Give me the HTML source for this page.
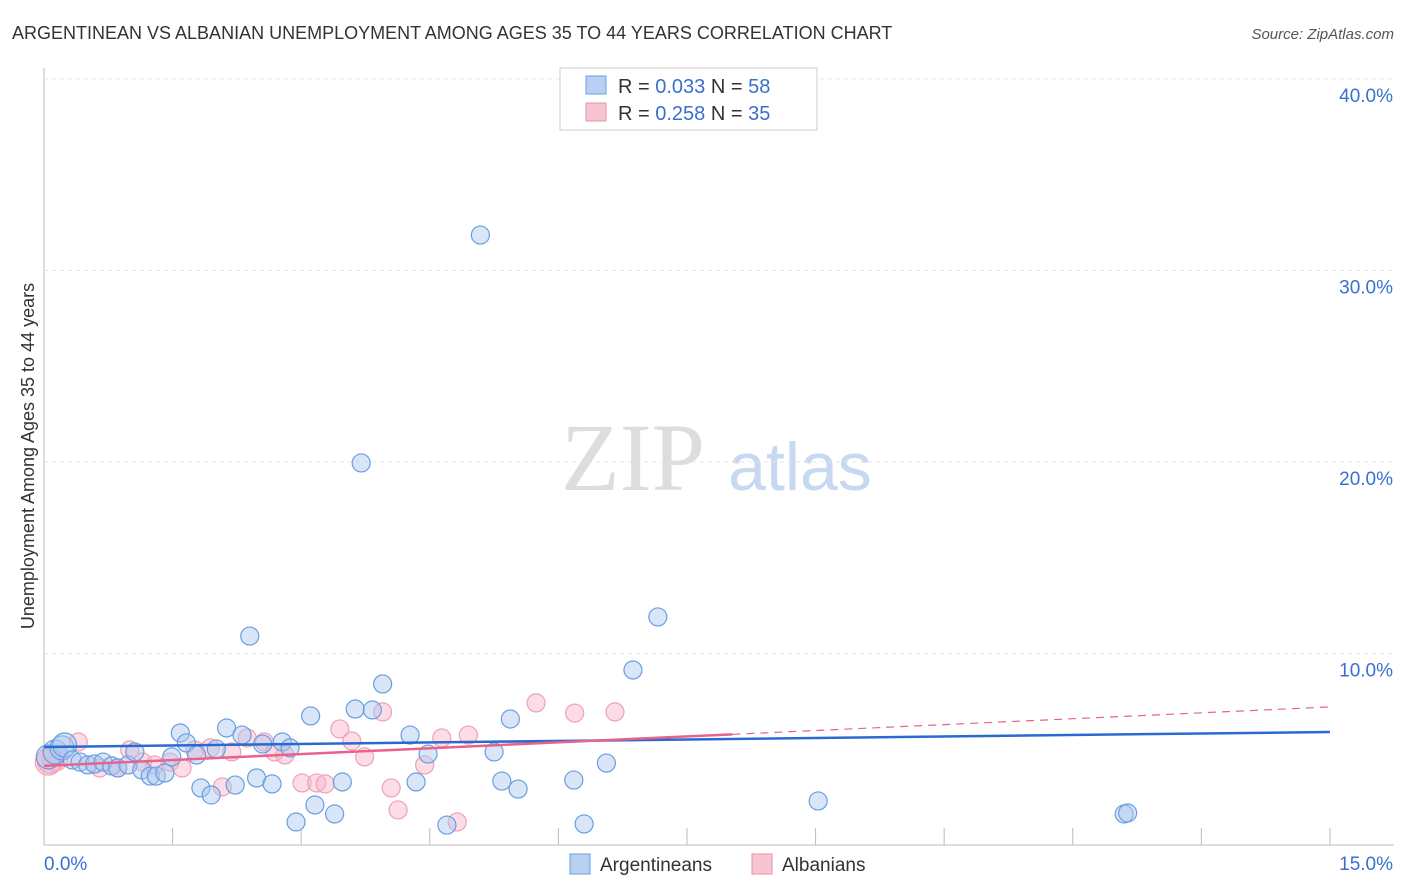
<!DOCTYPE html>
<html><head><meta charset="utf-8"><style>
body{margin:0;background:#fff;font-family:"Liberation Sans",sans-serif;}
#wrap{position:relative;width:1406px;height:892px;overflow:hidden;}
</style></head><body>
<div id="wrap">
<svg id="svg" width="1406" height="892" xmlns="http://www.w3.org/2000/svg">
<text x="12" y="39" font-size="18" fill="#333">ARGENTINEAN VS ALBANIAN UNEMPLOYMENT AMONG AGES 35 TO 44 YEARS CORRELATION CHART</text>
<text x="1394" y="39" font-size="15" fill="#555" font-style="italic" text-anchor="end">Source: ZipAtlas.com</text>
<text x="34" y="456" font-size="18" fill="#333" text-anchor="middle" transform="rotate(-90 34 456)">Unemployment Among Ages 35 to 44 years</text>
<text x="633" y="490" font-size="96" fill="#ddd" font-family="Liberation Serif" text-anchor="middle">ZIP</text>
<text x="800" y="490" font-size="68" fill="#c8d8f0" text-anchor="middle">atlas</text>
<g id="grid"></g><g id="marks"></g>
<g>
<rect x="560" y="68" width="257" height="62" fill="#fff" stroke="#ccc"/>
<rect x="586" y="76" width="20" height="18" fill="#b8d1f3" stroke="#6a9ee0"/>
<rect x="586" y="103" width="20" height="18" fill="#f8c4d2" stroke="#e890aa"/>
<text x="618" y="93" font-size="20" fill="#333">R = <tspan fill="#3a6fd0">0.033</tspan>   N = <tspan fill="#3a6fd0">58</tspan></text>
<text x="618" y="120" font-size="20" fill="#333">R = <tspan fill="#3a6fd0">0.258</tspan>   N = <tspan fill="#3a6fd0">35</tspan></text>
</g>
<g>
<rect x="570" y="854" width="20" height="20" fill="#b8d1f3" stroke="#6a9ee0"/>
<text x="600" y="871" font-size="19" fill="#333">Argentineans</text>
<rect x="752" y="854" width="20" height="20" fill="#f8c4d2" stroke="#e890aa"/>
<text x="782" y="871" font-size="19" fill="#333">Albanians</text>
</g>
</svg></div>
<script>
const blueX=[0.05,0.13,0.21,0.24,0.33,0.42,0.51,0.59,0.69,0.79,0.86,0.98,1.06,1.14,1.24,1.31,1.41,1.49,1.59,1.66,1.78,1.83,1.95,2.01,2.13,2.23,2.31,2.40,2.48,2.55,2.66,2.78,2.87,2.94,3.11,3.16,3.39,3.48,3.63,3.70,3.83,3.95,4.27,4.34,4.48,4.70,5.09,5.25,5.34,5.44,5.53,6.18,6.30,6.56,6.87,7.16,9.03,12.60,12.64];
const blueY=[4.6,4.86,5.07,5.22,4.44,4.33,4.18,4.23,4.33,4.13,4.02,4.18,4.86,3.92,3.6,3.6,3.76,4.6,5.85,5.33,4.7,2.98,2.61,5.01,6.11,3.13,5.74,10.91,3.5,5.27,3.19,5.38,5.07,1.2,6.74,2.09,1.62,3.29,7.1,19.95,7.05,8.41,5.74,3.29,4.75,1.04,31.85,4.86,3.34,6.58,2.92,3.39,1.1,4.28,9.14,11.91,2.3,1.62,1.67];
const pinkX=[0.05,0.13,0.4,0.65,0.86,1.0,1.15,1.29,1.47,1.61,1.76,1.94,2.08,2.19,2.37,2.57,2.69,2.81,3.01,3.18,3.28,3.45,3.59,3.74,3.95,4.05,4.13,4.44,4.64,4.82,4.95,5.74,6.19,6.66,0.07];
const pinkY=[4.33,4.54,5.38,4.02,4.02,4.96,4.33,4.18,4.33,4.02,4.96,5.07,3.03,4.86,5.59,5.38,4.86,4.7,3.24,3.24,3.19,6.06,5.43,4.6,6.95,2.98,1.83,4.18,5.59,1.2,5.74,7.42,6.89,6.95,4.44];
const blueTrend=[5.12,5.9];
const pinkTrend=[4.13,7.21];
const pinkSolidEnd=8.03;
const yTicks=[10,20,30,40];
const yTickLabels=["10.0%","20.0%","30.0%","40.0%"];
const xTickVals=[0,1.5,3,4.5,6,7.5,9,10.5,12,13.5,15];
const NS="http://www.w3.org/2000/svg";
const X=v=>44+v*85.73, Y=v=>845-v*19.15;
function mk(p,t,a,name){const e=document.createElementNS(NS,t);for(const k in a)e.setAttribute(k,a[k]);


p.appendChild(e);return e;}
const g=document.getElementById('grid'),m=document.getElementById('marks');
mk(g,'line',{x1:44,y1:68,x2:44,y2:845,stroke:'#bbb'},'y-axis-line');
mk(g,'line',{x1:44,y1:845,x2:1394,y2:845,stroke:'#bbb'},'x-axis-line');
yTicks.forEach((t,i)=>{mk(g,'line',{x1:44,y1:Y(t),x2:1394,y2:Y(t),stroke:'#e4e4e4','stroke-dasharray':'4,4'},'gridline');
const tx=mk(g,'text',{x:1393,y:Y(t)+23,'font-size':19,fill:'#3a6fd0','text-anchor':'end'},'y-tick-label');tx.textContent=yTickLabels[i];});
xTickVals.forEach(v=>mk(g,'line',{x1:X(v),y1:828,x2:X(v),y2:845,stroke:'#bbb'},'x-tick'));
let t0=mk(g,'text',{x:44,y:870,'font-size':19,fill:'#3a6fd0'},'x-tick-label');t0.textContent='0.0%';
let t1=mk(g,'text',{x:1393,y:870,'font-size':19,fill:'#3a6fd0','text-anchor':'end'},'x-tick-label');t1.textContent='15.0%';
pinkX.forEach((x,i)=>mk(m,'circle',{cx:X(x),cy:Y(pinkY[i]),r:i<2||i==34?13:9,fill:'rgba(248,180,200,0.45)',stroke:'#eea0b8','stroke-width':1.2},'albanian-point'));
blueX.forEach((x,i)=>mk(m,'circle',{cx:X(x),cy:Y(blueY[i]),r:i<4?12:9,fill:'rgba(170,200,240,0.45)',stroke:'#6a9ee0','stroke-width':1.2},'argentinean-point'));
const pAt=v=>pinkTrend[0]+(pinkTrend[1]-pinkTrend[0])*v/15;
mk(m,'line',{x1:X(0),y1:Y(blueTrend[0]),x2:X(15),y2:Y(blueTrend[1]),stroke:'#2a6ad0','stroke-width':2.5},'argentinean-trendline');
mk(m,'line',{x1:X(0),y1:Y(pinkTrend[0]),x2:X(pinkSolidEnd),y2:Y(pAt(pinkSolidEnd)),stroke:'#e8628a','stroke-width':2.5},'albanian-trendline');
mk(m,'line',{x1:X(pinkSolidEnd),y1:Y(pAt(pinkSolidEnd)),x2:X(15),y2:Y(pinkTrend[1]),stroke:'#e8628a','stroke-width':1.2,'stroke-dasharray':'8,6'},'albanian-trendline-extension');
</script>
</body></html>
